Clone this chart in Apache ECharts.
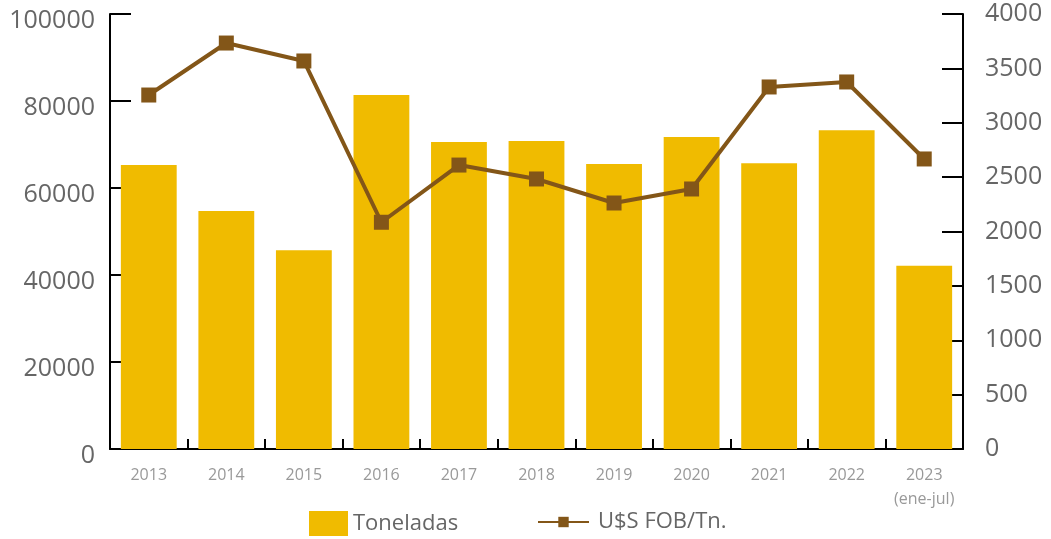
<!DOCTYPE html>
<html><head><meta charset="utf-8">
<script src="https://cdn.jsdelivr.net/npm/echarts@6/dist/echarts.min.js"></script>
<style>html,body{margin:0;padding:0;background:#fff}#c{width:1051px;height:539px}</style>
</head><body><div id="c"></div>
<script>
const categories = ['2013','2014','2015','2016','2017','2018','2019','2020','2021','2022','2023\n(ene-jul)'];
const toneladas = [65300, 54700, 45700, 81400, 70600, 70800, 65500, 71700, 65700, 73300, 42100];
const precioFOB = [3255, 3733, 3568, 2085, 2611, 2483, 2262, 2391, 3329, 3375, 2667];
const leftTicks = [0, 20000, 40000, 60000, 80000, 100000];
const rightTicks = [0, 500, 1000, 1500, 2000, 2500, 3000, 3500, 4000];

const FONT = 'Open Sans';
const chart = echarts.init(document.getElementById('c'));
chart.setOption({
  animation: false,
  textStyle: { fontFamily: FONT },
  grid: { left: 110, right: 88, top: 14, bottom: 90, containLabel: false },
  legend: [
    { data: [{ name: 'Toneladas', icon: 'rect' }], left: 304, top: 506, itemWidth: 39, itemHeight: 25, itemGap: 10,
      textStyle: { fontFamily: FONT, fontSize: 22, color: '#666' } },
    { data: ['U$S FOB/Tn.'], left: 532, top: 506, itemWidth: 51, itemHeight: 13, itemGap: 10,
      textStyle: { fontFamily: FONT, fontSize: 22, color: '#666', padding: [0,0,0,4] } }
  ],
  xAxis: {
    type: 'category', data: categories,
    axisLine: { lineStyle: { color: '#000', width: 2 } },
    axisTick: { show: true, inside: true, length: 10, lineStyle: { color: '#000', width: 2 } },
    axisLabel: { interval: 0, fontFamily: FONT, fontSize: 16, color: '#999', margin: 14, lineHeight: 24 }
  },
  yAxis: [
    { type: 'value', min: leftTicks[0], max: leftTicks[leftTicks.length-1], interval: 20000, position: 'left',
      splitLine: { show: false },
      axisLine: { show: true, lineStyle: { color: '#000', width: 2 } },
      axisTick: { show: true, inside: true, length: 21, lineStyle: { color: '#000', width: 2 } },
      axisLabel: { formatter: v => '{a|' + v + '}', margin: 15,
        rich: { a: { fontFamily: FONT, fontSize: 25, color: '#666', padding: [13,0,0,0] } } } },
    { type: 'value', min: rightTicks[0], max: rightTicks[rightTicks.length-1], interval: 500, position: 'right',
      splitLine: { show: false },
      axisLine: { show: true, lineStyle: { color: '#000', width: 2 } },
      axisTick: { show: true, inside: true, length: 21, lineStyle: { color: '#000', width: 2 } },
      axisLabel: { formatter: v => String(v), fontFamily: FONT, fontSize: 25, color: '#666', margin: 22 } }
  ],
  series: [
    { name: 'Toneladas', type: 'bar', data: toneladas, yAxisIndex: 0, barCategoryGap: '28%',
      itemStyle: { color: '#f0bb00' } },
    { name: 'U$S FOB/Tn.', type: 'line', data: precioFOB, yAxisIndex: 1,
      symbol: 'rect', symbolSize: 15, showAllSymbol: true,
      lineStyle: { color: '#835618', width: 4 }, itemStyle: { color: '#835618' } }
  ]
});
</script></body></html>
